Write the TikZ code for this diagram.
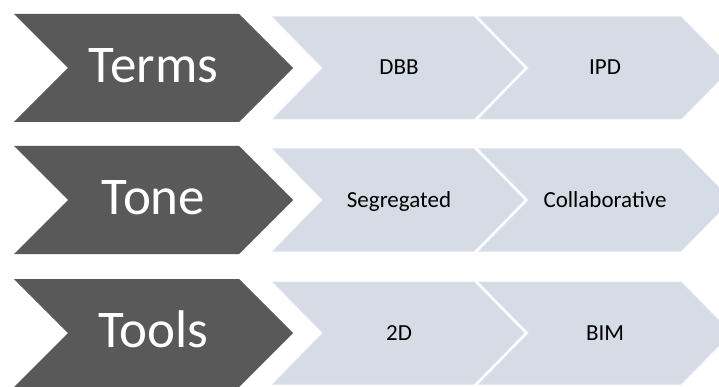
\documentclass[tikz,border=0pt]{standalone}
\usepackage{fontspec}
\setmainfont{Carlito}
\definecolor{DarkClr}{HTML}{595959}
\definecolor{LightClr}{HTML}{D6DCE5}
\definecolor{EdgeClr}{HTML}{DDE2EA}

\begin{document}
\begin{tikzpicture}[x=1pt,y=1pt,
  darkchev/.style={fill=DarkClr},
  lightchev/.style={fill=LightClr,draw=EdgeClr,line width=1pt},
  bigtxt/.style={anchor=base,yshift=-14.5pt,text=white,font=\fontsize{53}{53}\selectfont},
  smalltxt/.style={anchor=base,yshift=-7pt,text=black,font=\fontsize{23}{23}\selectfont}]
\useasboundingbox (0,0) rectangle (719,386);
\clip (0,0) rectangle (719,386);

% one row per category: dark label chevron, then two light chevrons
\foreach \yc/\main/\first/\second/\nm in {318/Terms/DBB/IPD/terms,
    186/Tone/Segregated/Collaborative/tone, 53/Tools/2D/BIM/tools}{
  \fill[darkchev] (14,\yc+54) -- (239,\yc+54) -- (293,\yc) -- (239,\yc-54)
    -- (14,\yc-54) -- (68,\yc) -- cycle;
  \filldraw[lightchev] (273,\yc+51) -- (474,\yc+51) -- (524,\yc) -- (474,\yc-51)
    -- (273,\yc-51) -- (323,\yc) -- cycle;
  \filldraw[lightchev] (479,\yc+51) -- (681,\yc+51) -- (731,\yc) -- (681,\yc-51)
    -- (479,\yc-51) -- (529,\yc) -- cycle;
  \node[bigtxt] (\nm) at (153.5,\yc) {\main};
  \node[smalltxt] (\nm-a) at (399,\yc) {\first};
  \node[smalltxt] (\nm-b) at (605,\yc) {\second};
}

\end{tikzpicture}
\end{document}
